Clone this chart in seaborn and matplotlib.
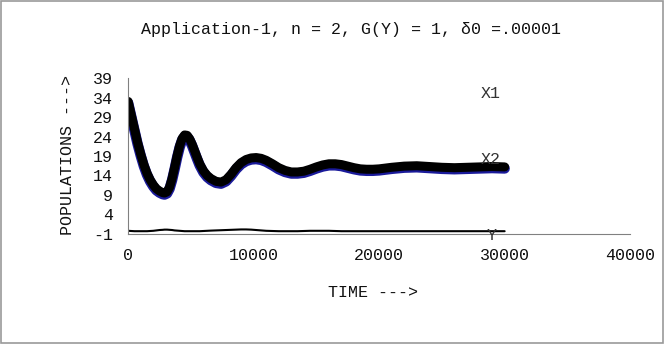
import matplotlib
matplotlib.use("Agg")
import matplotlib.pyplot as plt
import seaborn as sns
import pandas as pd
from matplotlib.patches import Rectangle

time = [0, 250, 500, 750, 1000, 1250, 1500, 1750, 2000, 2250, 2500, 2750, 2900, 3100, 3300, 3500, 3700, 3900, 4100, 4300, 4500, 4700, 4900, 5100, 5300, 5500, 5700, 6000, 6300, 6600, 7000, 7400, 7800, 8200, 8600, 9000, 9400, 9800, 10200, 10600, 11000, 11500, 12000, 12500, 13000, 13500, 14000, 14500, 15000, 15500, 16000, 16500, 17000, 17500, 18000, 18500, 19000, 19500, 20000, 21000, 22000, 23000, 24000, 25000, 26000, 27000, 28000, 29000, 30000]
x1 = [33.0, 29.5, 26.0, 22.5, 19.5, 16.8, 14.6, 12.9, 11.6, 10.6, 10.0, 9.6, 9.5, 9.8, 11.0, 13.2, 16.0, 19.0, 21.6, 23.5, 24.4, 24.3, 23.4, 22.0, 20.3, 18.6, 17.0, 15.2, 14.0, 13.2, 12.5, 12.3, 12.9, 14.3, 16.0, 17.3, 18.1, 18.5, 18.6, 18.4, 17.9, 17.0, 16.0, 15.3, 14.9, 14.9, 15.1, 15.6, 16.2, 16.7, 17.0, 17.0, 16.8, 16.4, 16.0, 15.7, 15.6, 15.6, 15.7, 16.1, 16.4, 16.5, 16.3, 16.1, 16.0, 16.1, 16.2, 16.3, 16.2]
x2 = [v - 0.4 for v in x1]
y = [-0.2, -0.25, -0.3, -0.3, -0.3, -0.3, -0.3, -0.25, -0.2, -0.1, 0.0, 0.05, 0.1, 0.1, 0.05, 0.0, -0.1, -0.15, -0.2, -0.25, -0.3, -0.3, -0.3, -0.3, -0.3, -0.3, -0.3, -0.25, -0.2, -0.15, -0.1, -0.05, 0.0, 0.05, 0.1, 0.15, 0.15, 0.1, 0.0, -0.1, -0.2, -0.25, -0.3, -0.3, -0.3, -0.3, -0.25, -0.2, -0.2, -0.2, -0.2, -0.25, -0.3, -0.3, -0.3, -0.3, -0.3, -0.3, -0.3, -0.3, -0.3, -0.3, -0.3, -0.3, -0.3, -0.3, -0.3, -0.3, -0.3]

yticks = [-1, 4, 9, 14, 19, 24, 29, 34, 39]
xticks = [0, 10000, 20000, 30000, 40000]

df = pd.DataFrame({"TIME": time, "X1": x1, "X2": x2, "Y": y})

sns.set_style("white")
plt.rcParams["font.family"] = ["Liberation Mono", "DejaVu Sans Mono"]

fig = plt.figure(figsize=(6.64, 3.44), dpi=100)
ax = fig.add_axes([0.193, 0.32, 0.756, 0.453])

sns.lineplot(data=df, x="TIME", y="X2", ax=ax, color="#1a1a9a", linewidth=7.5, solid_capstyle="round")
sns.lineplot(data=df, x="TIME", y="X1", ax=ax, color="black", linewidth=6.5, solid_capstyle="round")
sns.lineplot(data=df, x="TIME", y="Y", ax=ax, color="black", linewidth=1.5)

fs = 12
ax.set_xlim(0, 40000)
ax.set_ylim(-1, 39)
ax.set_xticks(xticks)
ax.set_yticks(yticks)
ax.set_xticklabels([str(t) for t in xticks], fontsize=fs, color="#111111")
ax.set_yticklabels([str(t) for t in yticks], fontsize=fs, color="#111111")
for s in ["top", "right"]:
    ax.spines[s].set_visible(False)
for s in ["left", "bottom"]:
    ax.spines[s].set_color("#808080")
    ax.spines[s].set_linewidth(0.8)
ax.tick_params(axis="y", direction="out", length=4, color="#808080", width=0.8, pad=7)
ax.tick_params(axis="x", direction="out", length=4, color="#808080", width=0.8, pad=6)
ax.set_xlabel("")
ax.set_ylabel("")

fig.text(0.529, 0.913, "Application-1, n = 2, G(Y) = 1, δ0 =.00001", ha="center", va="center", fontsize=fs, color="#111111")
fig.text(0.102, 0.55, "POPULATIONS --->", ha="center", va="center", rotation=90, fontsize=fs, color="#111111")
fig.text(0.562, 0.151, "TIME --->", ha="center", va="center", fontsize=fs, color="#111111")

ax.text(28100, 35, "X1", fontsize=fs, ha="left", va="center", color="#333333")
ax.text(28100, 18.2, "X2", fontsize=fs, ha="left", va="center", color="#333333")
ax.text(28600, -1.4, "Y", fontsize=fs, ha="left", va="center", color="#333333")

fig.add_artist(Rectangle((0.001, 0.002), 0.997, 0.995, transform=fig.transFigure, fill=False, edgecolor="#999999", linewidth=1.2))

fig.savefig("out.png", dpi=100)
